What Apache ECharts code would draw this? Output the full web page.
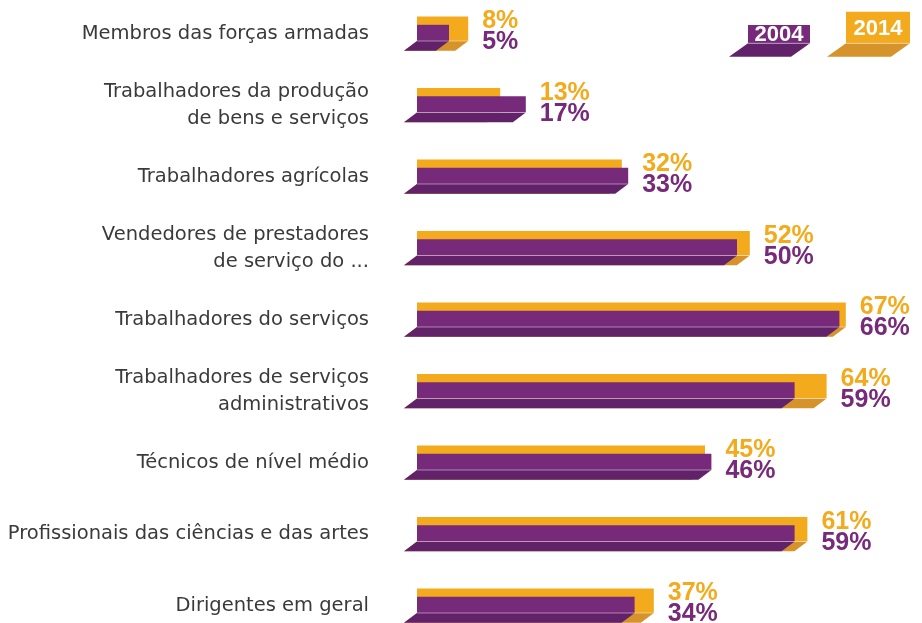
<!DOCTYPE html>
<html>
<head>
<meta charset="utf-8">
<script src="https://cdn.jsdelivr.net/npm/echarts@6/dist/echarts.min.js"></script>
<style>
html,body{margin:0;padding:0;background:#fff;}
#chart{width:922px;height:623px;}
</style>
</head>
<body>
<div id="chart"></div>
<script>
const categories = [
  'Membros das forças armadas',
  'Trabalhadores da produção\nde bens e serviços',
  'Trabalhadores agrícolas',
  'Vendedores de prestadores\nde serviço do ...',
  'Trabalhadores do serviços',
  'Trabalhadores de serviços\nadministrativos',
  'Técnicos de nível médio',
  'Profissionais das ciências e das artes',
  'Dirigentes em geral'
];
const values2004 = [5, 17, 33, 50, 66, 59, 46, 59, 34];
const values2014 = [8, 13, 32, 52, 67, 64, 45, 61, 37];
const seriesNames = ['2004', '2014'];

const PURPLE = '#77297A', PURPLE_DARK = '#62226A';
const ORANGE = '#F3AA1C', ORANGE_DARK = '#D6922B';
const FONT = '"Liberation Sans", Arial, sans-serif';
const CAT_FONT = '"DejaVu Sans", "Liberation Sans", sans-serif';

const data = categories.map((c, i) => [i, values2004[i], values2014[i]]);

function renderItem(params, api) {
  const i = api.value(0);
  const v04 = api.value(1), v14 = api.value(2);
  const p0 = api.coord([0, i]);
  const x0 = p0[0], c = p0[1];
  const x04 = api.coord([v04, i])[0];
  const x14 = api.coord([v14, i])[0];
  const oTop = c - 17, pTop = c - 8.7, fTop = c + 7.5, fBot = c + 17.3, sk = 13;
  const xMax = Math.max(x04, x14);
  return {
    type: 'group',
    children: [
      { type: 'rect', shape: { x: x0, y: oTop, width: x14 - x0, height: fTop - oTop }, style: { fill: ORANGE } },
      { type: 'polygon', shape: { points: [[x0, fTop], [x14, fTop], [x14 - sk, fBot], [x0 - sk, fBot]] }, style: { fill: ORANGE_DARK } },
      { type: 'rect', shape: { x: x0, y: pTop, width: x04 - x0, height: fTop - pTop }, style: { fill: PURPLE } },
      { type: 'polygon', shape: { points: [[x0, fTop], [x04, fTop], [x04 - sk, fBot], [x0 - sk, fBot]] }, style: { fill: PURPLE_DARK } },
      { type: 'line', shape: { x1: x0, y1: fTop, x2: xMax, y2: fTop }, style: { stroke: 'rgba(255,255,255,0.45)', lineWidth: 1 } },
      { type: 'text', style: { x: xMax + 14, y: c - 12, text: v14 + '%', fill: ORANGE, font: 'bold 25px ' + FONT, textAlign: 'left', textVerticalAlign: 'middle' } },
      { type: 'text', style: { x: xMax + 14, y: c + 9, text: v04 + '%', fill: PURPLE, font: 'bold 25px ' + FONT, textAlign: 'left', textVerticalAlign: 'middle' } }
    ]
  };
}

function legendItem(x, y, w, h, sk, fh, color, dark, label) {
  return [
    { type: 'rect', shape: { x: x, y: y, width: w, height: h }, style: { fill: color } },
    { type: 'polygon', shape: { points: [[x, y + h], [x + w, y + h], [x + w - sk, y + h + fh], [x - sk, y + h + fh]] }, style: { fill: dark } },
    { type: 'line', shape: { x1: x, y1: y + h, x2: x + w, y2: y + h }, style: { stroke: 'rgba(255,255,255,0.45)', lineWidth: 1 } },
    { type: 'text', style: { x: x + w / 2, y: y + h / 2 + 1, text: label, fill: '#fff', font: 'bold 22px ' + FONT, textAlign: 'center', textVerticalAlign: 'middle' } }
  ];
}

const chart = echarts.init(document.getElementById('chart'));
chart.setOption({
  animation: false,
  backgroundColor: '#fff',
  grid: { left: 417, top: -2.25, width: 499.2, height: 643.5, outerBoundsMode: 'none', containLabel: false },
  xAxis: { type: 'value', min: 0, max: 78, show: false },
  yAxis: {
    type: 'category', data: categories, inverse: true,
    axisLine: { show: false }, axisTick: { show: false }, splitLine: { show: false },
    axisLabel: { fontSize: 19.5, color: '#3a3a3a', margin: 48, lineHeight: 27, padding: [13, 0, 0, 0], fontFamily: CAT_FONT, align: 'right' }
  },
  series: [{
    type: 'custom', name: seriesNames.join('/'), renderItem: renderItem, data: data,
    encode: { x: [1, 2], y: 0 }, clip: false
  }],
  graphic: [].concat(
    legendItem(748, 25, 62, 18.3, 19, 13.5, PURPLE, PURPLE_DARK, seriesNames[0]),
    legendItem(846, 11.7, 64, 31.6, 19, 13.5, ORANGE, ORANGE_DARK, seriesNames[1])
  )
});
</script>
</body>
</html>
